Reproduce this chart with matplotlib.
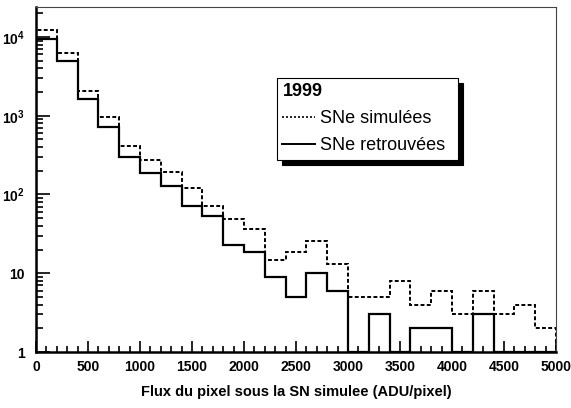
import numpy as np
import matplotlib
matplotlib.use("Agg")
import matplotlib.pyplot as plt
from matplotlib.lines import Line2D
from matplotlib.ticker import FixedLocator, LogLocator, MultipleLocator, NullFormatter

plt.rcParams['font.family'] = ['Liberation Sans', 'DejaVu Sans']
plt.rcParams['mathtext.fontset'] = 'custom'
plt.rcParams['mathtext.rm'] = 'Liberation Sans:bold'
plt.rcParams['mathtext.bf'] = 'Liberation Sans:bold'
# ROOT-like ticks, inside the frame, bottom and left only
plt.rcParams['xtick.direction'] = 'in'
plt.rcParams['ytick.direction'] = 'in'
plt.rcParams['xtick.major.size'] = 8
plt.rcParams['xtick.minor.size'] = 4.5
plt.rcParams['ytick.major.size'] = 10
plt.rcParams['ytick.minor.size'] = 5
plt.rcParams['xtick.major.width'] = 1.2
plt.rcParams['xtick.minor.width'] = 1.2
plt.rcParams['ytick.major.width'] = 1.2
plt.rcParams['ytick.minor.width'] = 1.2
plt.rcParams['xtick.minor.visible'] = True
plt.rcParams['ytick.minor.visible'] = True

# histogram bins (ADU/pixel)
bin_edges = np.arange(0, 5001, 200)
simulees = [12200, 6200, 2030, 950, 418, 270, 191, 120, 72, 49, 36.5, 14.6, 18.6,
            26, 13.2, 5, 5, 8, 4, 6, 3, 6, 3, 4, 2]
retrouvees = [9400, 5000, 1620, 725, 302, 186, 127, 71, 52.7, 23, 18.8, 9, 5,
              10, 6, 0, 3, 0, 2, 2, 0, 3, 0, 0, 0]
ytick_vals = [1, 10, 100, 1000, 10000]
ytick_labels = ['1', '10', r'$10^{2}$', r'$10^{3}$', r'$10^{4}$']

ymin, ymax = 1, 2.4e4

fig = plt.figure(figsize=(5.71, 4.08), dpi=100)
ax = fig.add_axes([36/571, 1 - 352/408, 520/571, 345/408])

# empty bins drawn at the bottom of the log axis, like ROOT does
sim = np.where(np.array(simulees) > 0, simulees, ymin)
ret = np.where(np.array(retrouvees) > 0, retrouvees, ymin)

ax.stairs(sim, bin_edges, baseline=ymin, color='black', lw=1.4, ls=(0, (2.0, 1.2)))
ax.stairs(ret, bin_edges, baseline=ymin, color='black', lw=1.6)

ax.set_yscale('log')
ax.set_xlim(0, 5000)
ax.set_ylim(ymin, ymax)

ax.xaxis.set_major_locator(MultipleLocator(500))
ax.xaxis.set_minor_locator(MultipleLocator(100))
ax.yaxis.set_major_locator(FixedLocator(ytick_vals))
ax.set_yticklabels(ytick_labels)
ax.yaxis.set_minor_locator(LogLocator(base=10, subs=np.arange(2, 10), numticks=20))
ax.yaxis.set_minor_formatter(NullFormatter())

ax.tick_params(axis='x', which='major', labelsize=10, pad=6)
ax.tick_params(axis='y', which='major', labelsize=10, pad=8)
for lab in ax.get_xticklabels() + ax.get_yticklabels():
    lab.set_fontweight('bold')

for s in ['left', 'bottom']:
    ax.spines[s].set_linewidth(1.8)
for s in ['top', 'right']:
    ax.spines[s].set_linewidth(0.8)
    ax.spines[s].set_color('#444444')

ax.set_xlabel('Flux du pixel sous la SN simulee (ADU/pixel)', fontsize=10.5,
              fontweight='bold', labelpad=8)

handles = [Line2D([], [], color='black', lw=1.2, ls=(0, (1.2, 1.2))),
           Line2D([], [], color='black', lw=1.4)]
leg = ax.legend(handles, ['SNe simulées', 'SNe retrouvées'], title='1999',
                loc='upper left', bbox_to_anchor=(277/571, 1 - 82/408, 181/571, 0.01),
                bbox_transform=fig.transFigure, mode='expand', alignment='left',
                fontsize=13, title_fontproperties={'weight': 'bold', 'size': 13},
                fancybox=False, edgecolor='black', framealpha=1,
                shadow={'color': 'black', 'alpha': 1, 'ox': 3.6, 'oy': -3.6},
                handlelength=1.8, handletextpad=0.3, borderaxespad=0,
                borderpad=0.3, labelspacing=0.55)
leg.get_frame().set_linewidth(0.8)

fig.savefig('out.png', dpi=100)
